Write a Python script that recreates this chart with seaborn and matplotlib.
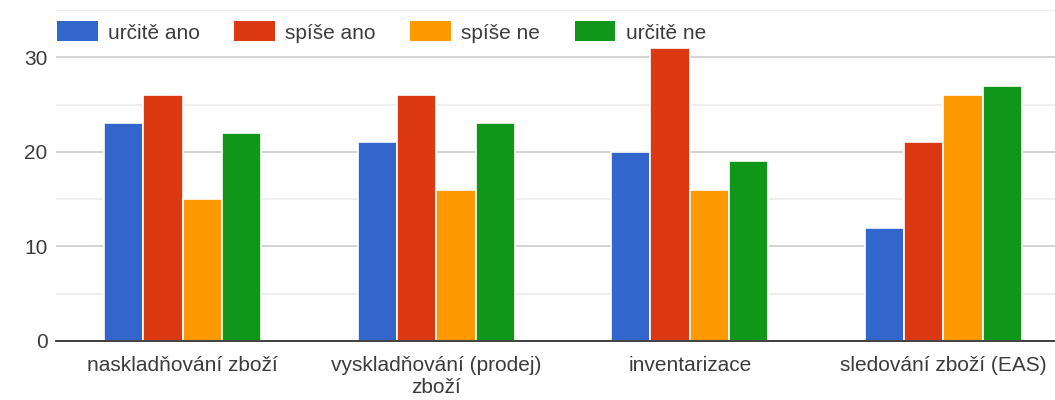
import pandas as pd
import matplotlib
matplotlib.use('Agg')
import matplotlib.pyplot as plt
import seaborn as sns
from matplotlib.ticker import MultipleLocator

# data
kategorie = ['naskladňování zboží', 'vyskladňování (prodej)\nzboží',
             'inventarizace', 'sledování zboží (EAS)']
odpovedi = ['určitě ano', 'spíše ano', 'spíše ne', 'určitě ne']
urcite_ano = [23, 21, 20, 12]
spise_ano = [26, 26, 31, 21]
spise_ne = [15, 16, 16, 26]
urcite_ne = [22, 23, 19, 27]
barvy = ['#3366cc', '#dc3912', '#ff9900', '#109618']

hodnoty = [urcite_ano, spise_ano, spise_ne, urcite_ne]
rows = []
for odp, vals in zip(odpovedi, hodnoty):
    for kat, v in zip(kategorie, vals):
        rows.append({'kategorie': kat, 'odpověď': odp, 'počet': v})
df = pd.DataFrame(rows)

sns.set_theme(style='white')
plt.rcParams['font.family'] = ['Liberation Sans', 'DejaVu Sans']

fig = plt.figure(figsize=(10.55, 4), dpi=100)
ax = fig.add_axes([56 / 1055, 59 / 400, 1014 / 1055, 331 / 400])

sns.barplot(data=df, x='kategorie', y='počet', hue='odpověď',
            order=kategorie, hue_order=odpovedi, palette=barvy,
            width=0.62, saturation=1, edgecolor='white', linewidth=1.2,
            ax=ax, zorder=3)

ax.set_xlim(-0.5, 3.5)
ax.set_ylim(0, 35)
ax.yaxis.set_major_locator(MultipleLocator(10))
ax.yaxis.set_minor_locator(MultipleLocator(5))
ax.grid(axis='y', which='major', color='#cccccc', linewidth=1.2, zorder=0)
ax.grid(axis='y', which='minor', color='#ebebeb', linewidth=1.2, zorder=0)
ax.set_axisbelow(True)

for s in ['left', 'right', 'top']:
    ax.spines[s].set_visible(False)
ax.spines['bottom'].set_color('#333333')
ax.spines['bottom'].set_linewidth(1.3)
ax.spines['bottom'].set_zorder(4)

ax.set_xlabel('')
ax.set_ylabel('')
ax.tick_params(axis='both', which='both', length=0, labelsize=15, colors='#3c3c3c')
ax.tick_params(axis='y', pad=6)
ax.tick_params(axis='x', pad=11)
ax.set_yticks([0, 10, 20, 30])
for lab in ax.get_xticklabels():
    lab.set_linespacing(1.2)

leg = ax.legend(loc='center left', bbox_to_anchor=(57 / 1055, 1 - 32 / 400),
                bbox_transform=fig.transFigure, ncol=4, frameon=False,
                fontsize=15, handlelength=1.95, handleheight=1.1,
                handletextpad=0.5, columnspacing=1.65, borderpad=0,
                borderaxespad=0)
for t in leg.get_texts():
    t.set_color('#3c3c3c')
for h in leg.get_patches():
    h.set_edgecolor('none')

fig.savefig('out.png', dpi=100)
